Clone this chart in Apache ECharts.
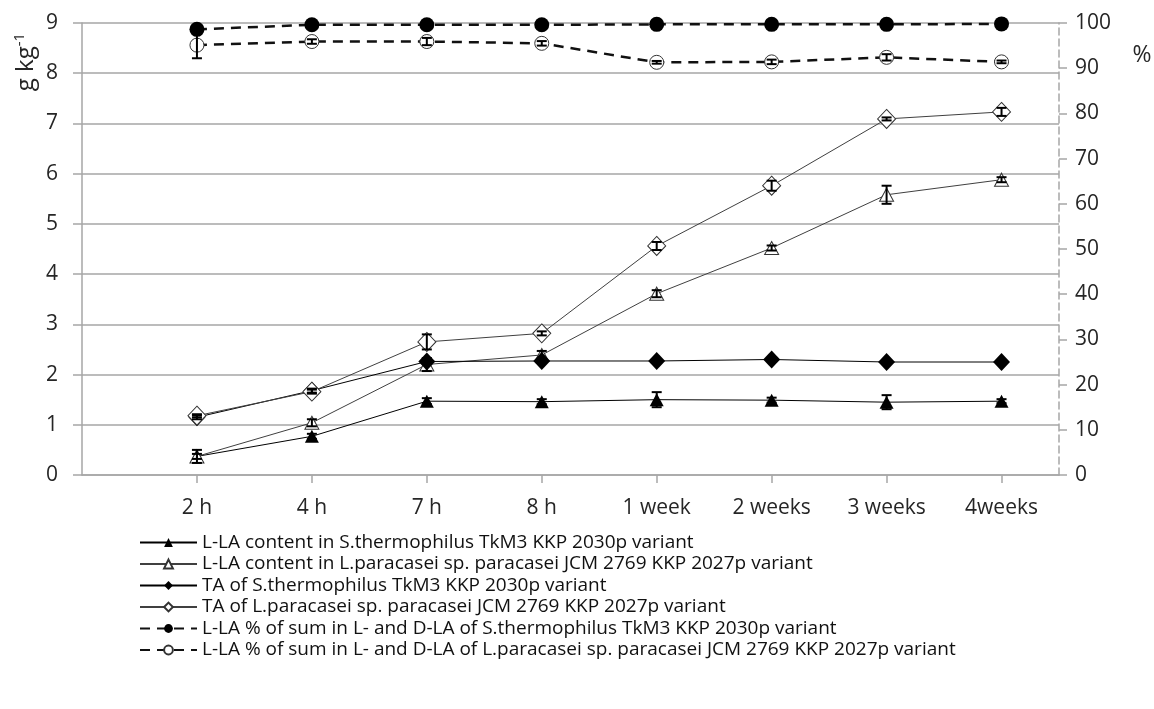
<!DOCTYPE html>
<html>
<head>
<meta charset="utf-8">
<script src="https://cdn.jsdelivr.net/npm/echarts@6/dist/echarts.min.js"></script>
<style>
  html, body { margin: 0; padding: 0; background: #fff; }
  #chart { width: 1154px; height: 709px; }
</style>
</head>
<body>
<div id="chart"></div>
<script>
// Sampling times
const categories = ['2 h', '4 h', '7 h', '8 h', '1 week', '2 weeks', '3 weeks', '4weeks'];

// L-LA content, g kg-1
const llaThermo = [0.37, 0.77, 1.47, 1.46, 1.50, 1.49, 1.45, 1.47];
const llaThermoErr = [0.13, 0.05, 0.06, 0.05, 0.15, 0.05, 0.14, 0.04];
const llaPara = [0.37, 1.04, 2.20, 2.39, 3.61, 4.52, 5.58, 5.88];
const llaParaErr = [0.05, 0.07, 0.13, 0.08, 0.07, 0.05, 0.18, 0.05];

// Titratable acidity, g kg-1
const taThermo = [1.15, 1.68, 2.26, 2.27, 2.27, 2.30, 2.25, 2.25];
const taThermoErr = [0.04, 0.04, 0.04, 0.04, 0.03, 0.03, 0.03, 0.03];
const taPara = [1.18, 1.66, 2.65, 2.82, 4.56, 5.76, 7.09, 7.23];
const taParaErr = [0.03, 0.04, 0.15, 0.04, 0.08, 0.10, 0.03, 0.08];

// L-LA share of total lactic acid, %
const pctThermo = [98.6, 99.6, 99.6, 99.6, 99.7, 99.7, 99.7, 99.8];
const pctThermoErr = [0.3, 0.2, 0.2, 0.2, 0.1, 0.1, 0.1, 0.1];
const pctPara = [95.1, 95.9, 95.9, 95.5, 91.3, 91.4, 92.4, 91.4];
const pctParaErr = [2.9, 0.5, 0.8, 0.5, 0.3, 0.5, 0.7, 0.3];

// Axis ticks
const leftTicks = { min: 0, max: 9, interval: 1 };
const rightTicks = { min: 0, max: 100, interval: 10 };

const seriesNames = [
  'L-LA content in S.thermophilus TkM3 KKP 2030p variant',
  'L-LA content in L.paracasei sp. paracasei JCM 2769 KKP 2027p variant',
  'TA of S.thermophilus TkM3 KKP 2030p variant',
  'TA of L.paracasei sp. paracasei JCM 2769 KKP 2027p variant',
  'L-LA % of sum in L- and D-LA of S.thermophilus TkM3 KKP 2030p variant',
  'L-LA % of sum in L- and D-LA of L.paracasei sp. paracasei JCM 2769 KKP 2027p variant'
];

const FONT = 'Open Sans';
const TXT = '#262626';
const GRID = '#a6a6a6';

const pts = arr => arr.map((v, i) => [i + 1, v]);
const errPts = (arr, err) => arr.map((v, i) => [i + 1, v, err[i]]);
const tickPositions = categories.map((c, i) => i + 1);

// Vertical error bar with short caps
function errorBar(params, api) {
  const x = api.value(0), y = api.value(1), e = api.value(2);
  const top = api.coord([x, y + e]);
  const bot = api.coord([x, y - e]);
  const hw = 5;
  const st = { stroke: '#000', lineWidth: 2 };
  return {
    type: 'group',
    children: [
      { type: 'line', shape: { x1: top[0], y1: top[1], x2: bot[0], y2: bot[1] }, style: st },
      { type: 'line', shape: { x1: top[0] - hw, y1: top[1], x2: top[0] + hw, y2: top[1] }, style: st },
      { type: 'line', shape: { x1: bot[0] - hw, y1: bot[1], x2: bot[0] + hw, y2: bot[1] }, style: st }
    ]
  };
}

function lineSeries(name, data, opts) {
  return Object.assign({
    name: name,
    type: 'line',
    data: pts(data),
    yAxisIndex: 0,
    z: 3,
    lineStyle: { color: '#404040', width: 1 },
    emphasis: { disabled: true },
    animation: false
  }, opts);
}

function errSeries(data, err, axis) {
  return {
    type: 'custom',
    yAxisIndex: axis,
    renderItem: errorBar,
    data: errPts(data, err),
    z: 4,
    silent: true,
    animation: false
  };
}

const chart = echarts.init(document.getElementById('chart'), null, { renderer: 'canvas' });

chart.setOption({
  backgroundColor: '#fff',
  animation: false,
  grid: { left: 82, right: 95, top: 23, bottom: 234, containLabel: false },
  xAxis: {
    type: 'value',
    min: 0,
    max: 8.5,
    interval: 1,
    axisLine: { show: true, lineStyle: { color: GRID, width: 1.5 } },
    axisTick: { show: true, length: 8, lineStyle: { color: GRID, width: 1.5 }, customValues: tickPositions },
    splitLine: { show: false },
    axisLabel: {
      customValues: tickPositions,
      formatter: v => categories[Math.round(v) - 1] || '',
      margin: 23,
      fontFamily: FONT,
      fontSize: 21,
      color: TXT
    }
  },
  yAxis: [
    {
      type: 'value',
      position: 'left',
      min: leftTicks.min,
      max: leftTicks.max,
      interval: leftTicks.interval,
      axisLine: { show: true, lineStyle: { color: GRID, width: 1.5 } },
      axisTick: { show: true, length: 9, lineStyle: { color: GRID, width: 1.5 } },
      splitLine: { show: true, lineStyle: { color: GRID, width: 1.5 } },
      axisLabel: { margin: 24, fontFamily: FONT, fontSize: 21, color: TXT }
    },
    {
      type: 'value',
      position: 'right',
      min: rightTicks.min,
      max: rightTicks.max,
      interval: rightTicks.interval,
      axisLine: { show: true, lineStyle: { color: GRID, width: 1.5, type: [7, 4] } },
      axisTick: { show: true, length: 8, lineStyle: { color: GRID, width: 1.5 } },
      splitLine: { show: false },
      axisLabel: { margin: 16, fontFamily: FONT, fontSize: 21, color: TXT }
    }
  ],
  legend: {
    orient: 'vertical',
    left: 134,
    top: 527,
    itemWidth: 57,
    itemHeight: 11,
    itemGap: 0.5,
    selectedMode: false,
    data: seriesNames,
    textStyle: { fontFamily: FONT, fontSize: 19, color: '#111', lineHeight: 21 }
  },
  graphic: [
    {
      type: 'text',
      x: 26,
      y: 62,
      rotation: Math.PI / 2,
      style: {
        text: 'g kg{s|-1}',
        font: '24px "Open Sans"',
        fill: TXT,
        align: 'center',
        verticalAlign: 'middle',
        rich: { s: { fontSize: 15, fontFamily: FONT, padding: [0, 0, 12, 0], fill: TXT } }
      }
    },
    {
      type: 'text',
      x: 1142,
      y: 55,
      style: { text: '%', font: '23px "Open Sans"', fill: TXT, align: 'center', verticalAlign: 'middle' }
    }
  ],
  series: [
    lineSeries(seriesNames[0], llaThermo, {
      symbol: 'triangle', symbolSize: [14, 13],
      itemStyle: { color: '#000', borderColor: '#000', borderWidth: 0 },
      lineStyle: { color: '#000', width: 1 }
    }),
    lineSeries(seriesNames[1], llaPara, {
      symbol: 'triangle', symbolSize: [14, 13],
      itemStyle: { color: '#fff', borderColor: '#333', borderWidth: 1 },
      lineStyle: { color: '#404040', width: 1 }
    }),
    lineSeries(seriesNames[2], taThermo, {
      symbol: 'diamond', symbolSize: [17, 18],
      itemStyle: { color: '#000', borderColor: '#000', borderWidth: 0 },
      lineStyle: { color: '#000', width: 1 }
    }),
    lineSeries(seriesNames[3], taPara, {
      symbol: 'diamond', symbolSize: [18, 19],
      itemStyle: { color: '#fff', borderColor: '#333', borderWidth: 1 },
      lineStyle: { color: '#404040', width: 1 }
    }),
    lineSeries(seriesNames[4], pctThermo, {
      yAxisIndex: 1,
      symbol: 'circle', symbolSize: 15,
      itemStyle: { color: '#000', borderColor: '#000', borderWidth: 0 },
      lineStyle: { color: '#111', width: 2.5, type: [10, 7] }
    }),
    lineSeries(seriesNames[5], pctPara, {
      yAxisIndex: 1,
      symbol: 'circle', symbolSize: 14,
      itemStyle: { color: '#fff', borderColor: '#333', borderWidth: 1 },
      lineStyle: { color: '#111', width: 2.5, type: [10, 7] }
    }),
    errSeries(llaThermo, llaThermoErr, 0),
    errSeries(llaPara, llaParaErr, 0),
    errSeries(taThermo, taThermoErr, 0),
    errSeries(taPara, taParaErr, 0),
    errSeries(pctThermo, pctThermoErr, 1),
    errSeries(pctPara, pctParaErr, 1)
  ]
});
</script>
</body>
</html>
